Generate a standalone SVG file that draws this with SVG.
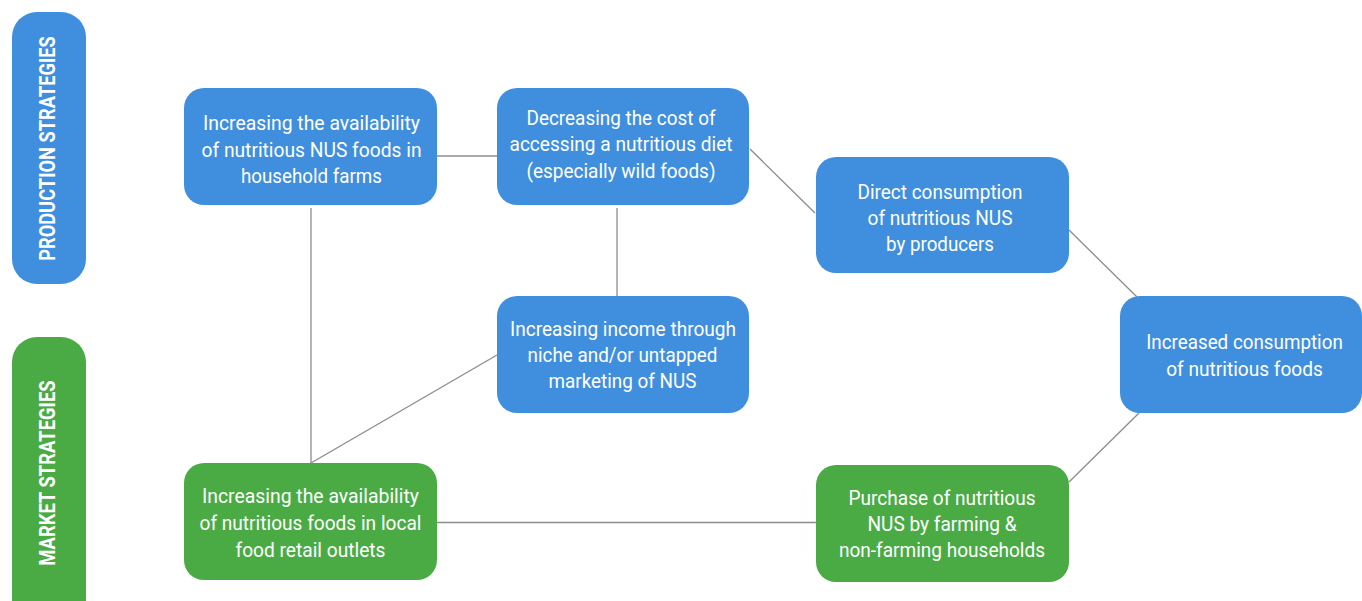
<svg xmlns="http://www.w3.org/2000/svg" width="1362" height="601" viewBox="0 0 1362 601">
<style>
.blue{fill:#3f8fde}
.green{fill:#4aab45}
.t{font-family:Roboto,"Liberation Sans",sans-serif;font-size:21px;fill:#fff;text-anchor:middle}
.lab{font-family:Roboto,"Liberation Sans",sans-serif;font-size:22px;font-weight:bold;fill:#fff;text-anchor:middle}
.c{stroke:#8c8c8c;stroke-width:1.3;fill:none}
</style>
<rect width="1362" height="601" fill="#fff"/>
<g id="connectors">
<line class="c" x1="437" y1="156" x2="497" y2="156"/>
<line class="c" x1="311" y1="208" x2="311" y2="463"/>
<line class="c" x1="617" y1="208" x2="617" y2="296"/>
<line class="c" x1="750" y1="149" x2="815" y2="213"/>
<line class="c" x1="497" y1="355" x2="311" y2="463"/>
<line class="c" x1="1069" y1="230" x2="1137" y2="297"/>
<line class="c" x1="1139" y1="413" x2="1069" y2="482"/>
<line class="c" x1="437" y1="522.5" x2="816" y2="522.5"/>
</g>
<g id="production-label">
<rect class="blue" x="12" y="12" width="74" height="272" rx="25"/>
<text class="lab" transform="translate(55,148.5) rotate(-90) scale(0.82,1)" textLength="274" lengthAdjust="spacingAndGlyphs">PRODUCTION STRATEGIES</text>
</g>
<g id="market-label">
<rect class="green" x="12" y="337" width="74" height="300" rx="25"/>
<text class="lab" transform="translate(55,473) rotate(-90) scale(0.82,1)" textLength="226" lengthAdjust="spacingAndGlyphs">MARKET STRATEGIES</text>
</g>
<g id="node-household-farms">
<rect class="blue" x="184" y="88" width="253" height="117" rx="20"/>
<text class="t" x="311.5" y="130" textLength="217" lengthAdjust="spacingAndGlyphs">Increasing the availability</text>
<text class="t" x="311.5" y="156.5" textLength="220" lengthAdjust="spacingAndGlyphs">of nutritious NUS foods in</text>
<text class="t" x="311.5" y="183" textLength="141" lengthAdjust="spacingAndGlyphs">household farms</text>
</g>
<g id="node-decreasing-cost">
<rect class="blue" x="497" y="88" width="252" height="117" rx="20"/>
<text class="t" x="621" y="124.5" textLength="189" lengthAdjust="spacingAndGlyphs">Decreasing the cost of</text>
<text class="t" x="621" y="151" textLength="223" lengthAdjust="spacingAndGlyphs">accessing a nutritious diet</text>
<text class="t" x="621" y="177.5" textLength="189" lengthAdjust="spacingAndGlyphs">(especially wild foods)</text>
</g>
<g id="node-direct-consumption">
<rect class="blue" x="816" y="157" width="253" height="116" rx="20"/>
<text class="t" x="940" y="198.5" textLength="165" lengthAdjust="spacingAndGlyphs">Direct consumption</text>
<text class="t" x="940" y="224.5" textLength="145" lengthAdjust="spacingAndGlyphs">of nutritious NUS</text>
<text class="t" x="940" y="250.5" textLength="108" lengthAdjust="spacingAndGlyphs">by producers</text>
</g>
<g id="node-increasing-income">
<rect class="blue" x="497" y="296" width="252" height="117" rx="20"/>
<text class="t" x="623" y="335.5" textLength="226" lengthAdjust="spacingAndGlyphs">Increasing income through</text>
<text class="t" x="622.5" y="361.5" textLength="190" lengthAdjust="spacingAndGlyphs">niche and/or untapped</text>
<text class="t" x="622.5" y="387.5" textLength="148" lengthAdjust="spacingAndGlyphs">marketing of NUS</text>
</g>
<g id="node-increased-consumption">
<rect class="blue" x="1120" y="296" width="242" height="117" rx="20"/>
<g transform="translate(1244.5,0) scale(0.87,1)">
<text class="t" x="0" y="349.5" textLength="226" lengthAdjust="spacingAndGlyphs">Increased consumption</text>
<text class="t" x="0" y="376" textLength="180" lengthAdjust="spacingAndGlyphs">of nutritious foods</text>
</g>
</g>
<g id="node-local-retail">
<rect class="green" x="184" y="463" width="253" height="117" rx="20"/>
<text class="t" x="310.5" y="502.5" textLength="217" lengthAdjust="spacingAndGlyphs">Increasing the availability</text>
<text class="t" x="310.5" y="529.5" textLength="222" lengthAdjust="spacingAndGlyphs">of nutritious foods in local</text>
<text class="t" x="310.5" y="556.5" textLength="150" lengthAdjust="spacingAndGlyphs">food retail outlets</text>
</g>
<g id="node-purchase">
<rect class="green" x="816" y="465" width="253" height="117" rx="20"/>
<text class="t" x="942" y="504.5" textLength="187" lengthAdjust="spacingAndGlyphs">Purchase of nutritious</text>
<text class="t" x="942" y="530.5" textLength="149" lengthAdjust="spacingAndGlyphs">NUS by farming &amp;</text>
<text class="t" x="942" y="556.5" textLength="206" lengthAdjust="spacingAndGlyphs">non-farming households</text>
</g>
</svg>
